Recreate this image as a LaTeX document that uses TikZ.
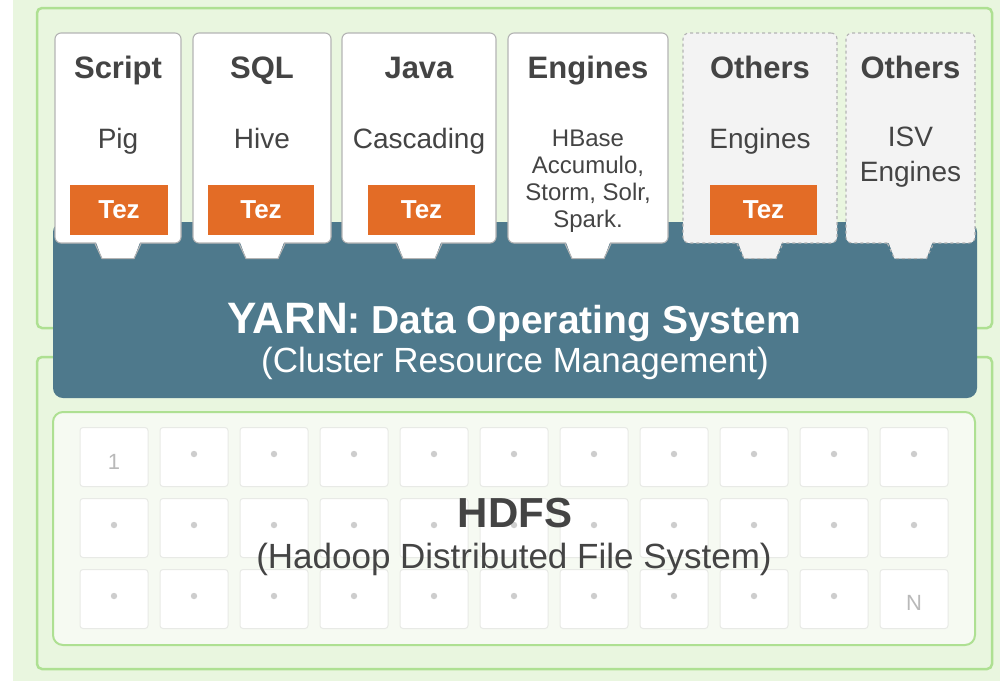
\documentclass[tikz,border=0pt]{standalone}
\usepackage{fontspec}
\setmainfont{Liberation Sans}
\definecolor{bggreen}{RGB}{233,246,223}
\definecolor{framegreen}{RGB}{174,224,146}
\definecolor{yarnblue}{RGB}{78,121,140}
\definecolor{tezorange}{RGB}{227,108,38}
\definecolor{textgray}{RGB}{68,68,68}
\definecolor{cardgray}{RGB}{180,180,180}
\definecolor{hdfsfill}{RGB}{246,250,242}
\definecolor{cellline}{RGB}{232,234,230}
\definecolor{dotgray}{RGB}{205,205,205}
\definecolor{othersfill}{RGB}{243,243,243}

% white notch under each card
\newcommand{\cardtab}[3]{%
  \fill[#2] ([xshift=-22pt,yshift=1.5pt]#1.south) -- ([xshift=-16pt,yshift=-15pt]#1.south)
    -- ([xshift=16pt,yshift=-15pt]#1.south) -- ([xshift=22pt,yshift=1.5pt]#1.south) -- cycle;
  \draw[tabline,#3] ([xshift=-23pt]#1.south) -- ([xshift=-16pt,yshift=-15pt]#1.south)
    -- ([xshift=16pt,yshift=-15pt]#1.south) -- ([xshift=23pt]#1.south);}

\begin{document}
\begin{tikzpicture}[x=1pt, y=-1pt,
    card/.style={draw=cardgray, line width=1.1pt, fill=white, rounded corners=6pt, minimum height=210pt, inner sep=0pt},
    othercard/.style={card, fill=othersfill, dashed},
    cardtitle/.style={anchor=base, text=textgray, font=\fontsize{31}{36}\selectfont\bfseries},
    cardsub/.style={anchor=base, text=textgray, font=\fontsize{28}{32}\selectfont},
    tez/.style={fill=tezorange, text=white, minimum height=50pt, inner sep=0pt, font=\fontsize{26}{30}\selectfont\bfseries},
    cell/.style={draw=cellline, line width=1pt, fill=white, rounded corners=3pt, minimum width=68pt, minimum height=59pt, inner sep=0pt},
    celltext/.style={text=dotgray!90!black, font=\fontsize{22}{26}\selectfont},
    tabline/.style={draw=cardgray, line width=1.1pt},
    greenframe/.style={draw=framegreen, line width=2.5pt, rounded corners=5pt}]
        \useasboundingbox (0,0) rectangle (1000,686);
        \fill[white] (0,0) rectangle (1000,686);
        \fill[bggreen] (13,0) rectangle (1000,681);
        \draw[greenframe] (37,8) rectangle (992,328);
        \draw[greenframe] (37,357) rectangle (992,669);

        \node[fill=hdfsfill, draw=framegreen, line width=2pt, rounded corners=10pt, minimum width=922pt, minimum height=233pt] (hdfs) at (514,528.5) {};
        \foreach \r in {0,1,2}
            \foreach \c in {0,...,10} {
                \pgfmathtruncatemacro{\k}{11*\r+\c+1}
                \node[cell] (cell\k) at (114+80*\c, 457+71*\r) {};
                \ifnum\k>1 \ifnum\k<33 \fill[dotgray] ([yshift=3pt]cell\k.center) circle (3.2pt); \fi\fi
            }
        \node[celltext] (first) at ([yshift=-5pt]cell1.center) {1};
        \node[celltext] (last) at ([yshift=-4pt]cell33.center) {N};
        \node[anchor=base, text=textgray, font=\fontsize{42}{48}\selectfont\bfseries] (hdfstitle) at (515,527) {HDFS};
        \node[anchor=base, text=textgray, font=\fontsize{35}{40}\selectfont] (hdfssub) at (514,568) {(Hadoop Distributed File System)};

        \node[fill=yarnblue, rounded corners=10pt, minimum width=924pt, minimum height=176pt] (yarn) at (515,310) {};
        \node[anchor=base, text=white, font=\bfseries] (yarntitle) at (514,333) {\fontsize{44}{50}\selectfont YARN\fontsize{39}{44}\selectfont: Data Operating System};
        \node[anchor=base, text=white, font=\fontsize{35}{40}\selectfont] (yarnsub) at (515,372) {(Cluster Resource Management)};

        \node[card, minimum width=126pt] (script) at (118,138) {};
        \node[card, minimum width=138pt] (sql) at (262,138) {};
        \node[card, minimum width=154pt] (java) at (419,138) {};
        \node[card, minimum width=160pt] (engines) at (588,138) {};
        \node[othercard, minimum width=154pt] (others) at (760,138) {};
        \node[othercard, minimum width=129pt] (isv) at (910.5,138) {};
        \cardtab{script}{white}{}
        \cardtab{sql}{white}{}
        \cardtab{java}{white}{}
        \cardtab{engines}{white}{}
        \cardtab{others}{othersfill}{dashed}
        \cardtab{isv}{othersfill}{dashed}

        \node[cardtitle] (scripttitle) at (118,78) {Script};
        \node[cardtitle] (sqltitle) at (262,78) {SQL};
        \node[cardtitle] (javatitle) at (419,78) {Java};
        \node[cardtitle] (enginestitle) at (588,78) {Engines};
        \node[cardtitle] (otherstitle) at (760,78) {Others};
        \node[cardtitle] (isvtitle) at (910.5,78) {Others};

        \node[cardsub] (scriptsub) at (118,148) {Pig};
        \node[cardsub] (sqlsub) at (262,148) {Hive};
        \node[cardsub] (javasub) at (419,148) {Cascading};
        \node[text=textgray, align=center, font=\fontsize{24}{27}\selectfont] (enginessub) at (588,181) {HBase\\Accumulo,\\Storm, Solr,\\Spark.};
        \node[cardsub] (otherssub) at (760,148) {Engines};
        \node[text=textgray, align=center, font=\fontsize{28}{35}\selectfont] (isvsub) at (910.5,157) {ISV\\Engines};

        \node[tez, minimum width=98pt] (scripttez) at (119,210) {Tez};
        \node[tez, minimum width=106pt] (sqltez) at (261,210) {Tez};
        \node[tez, minimum width=107pt] (javatez) at (421.5,210) {Tez};
        \node[tez, minimum width=107pt] (otherstez) at (763.5,210) {Tez};
\end{tikzpicture}
\end{document}
